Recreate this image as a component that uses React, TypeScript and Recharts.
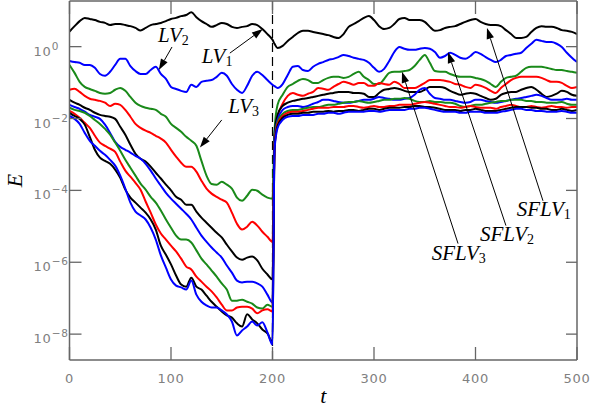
import React from "react";
import { LineChart, Line, XAxis, YAxis, ReferenceLine, ReferenceDot } from "recharts";

// time grid (t), shared by every series
const T = [
  0, 5, 10, 15, 20, 25, 30, 35, 40, 45, 50, 55, 60, 65, 70, 75, 80, 85, 90, 95,
  100, 105, 110, 115, 120, 125, 130, 135, 140, 145, 150, 155, 160, 165, 170, 175, 180, 185, 190, 195,
  200, 202, 205,
  210, 215, 220, 225, 230, 235, 240, 245, 250, 255, 260, 265, 270, 275, 280, 285, 290, 295, 300, 305,
  310, 315, 320, 325, 330, 335, 340, 345, 350, 355, 360, 365, 370, 375, 380, 385, 390, 395, 400, 405,
  410, 415, 420, 425, 430, 435, 440, 445, 450, 455, 460, 465, 470, 475, 480, 485, 490, 495, 500,
];

// log10(E), one array per curve
const LV_A = [
  0.42, 0.57, 0.71, 0.80, 0.77, 0.74, 0.69, 0.66, 0.60, 0.63,
  0.63, 0.60, 0.57, 0.52, 0.45, 0.52, 0.60, 0.63, 0.66, 0.71,
  0.77, 0.80, 0.85, 0.88, 0.96, 0.82, 0.71, 0.63, 0.55, 0.60,
  0.66, 0.63, 0.55, 0.52, 0.55, 0.57, 0.63, 0.60, 0.49, 0.35,
  0.19,
  0.08, -0.04,
  0.02, 0.16, 0.27, 0.38, 0.44, 0.44, 0.41, 0.38, 0.35, 0.32,
  0.27, 0.24, 0.35, 0.55, 0.63, 0.71, 0.80, 0.85, 0.74, 0.57,
  0.49, 0.52, 0.63, 0.77, 0.80, 0.74, 0.74, 0.74, 0.69, 0.55,
  0.44, 0.46, 0.52, 0.55, 0.57, 0.63, 0.69, 0.74, 0.77, 0.69,
  0.63, 0.60, 0.60, 0.57, 0.46, 0.35, 0.24, 0.24, 0.27, 0.41,
  0.52, 0.57, 0.55, 0.55, 0.52, 0.46, 0.44, 0.41, 0.35,
];
const LV_B = [
  -0.40, -0.43, -0.45, -0.51, -0.51, -0.59, -0.76, -0.81, -0.70, -0.51,
  -0.34, -0.34, -0.54, -0.68, -0.76, -0.76, -0.65, -0.56, -0.76, -0.90,
  -1.12, -1.18, -1.23, -1.26, -1.06, -1.12, -0.98, -0.95, -0.93, -0.84,
  -0.73, -0.81, -1.04, -1.20, -1.29, -1.09, -0.81, -0.70, -0.79, -0.93,
  -1.06,
  -1.10, -1.15,
  -1.04, -0.79, -0.56, -0.54, -0.65, -0.68, -0.56, -0.48, -0.43, -0.37,
  -0.34, -0.29, -0.23, -0.26, -0.31, -0.34, -0.37, -0.45, -0.59, -0.70,
  -0.62, -0.40, -0.15, -0.01, -0.06, -0.09, -0.09, -0.06, -0.04, -0.06,
  -0.15, -0.31, -0.26, -0.17, -0.23, -0.31, -0.34, -0.26, -0.15, -0.20,
  -0.29, -0.37, -0.43, -0.37, -0.26, -0.23, -0.20, -0.17, -0.04, 0.08,
  0.19, 0.16, 0.13, 0.13, 0.08, -0.01, -0.17, -0.31, -0.43,
];
const LV_C = [
  -0.51, -0.73, -0.98, -1.12, -1.18, -1.23, -1.29, -1.31, -1.29, -1.20,
  -1.15, -1.23, -1.40, -1.56, -1.65, -1.70, -1.73, -1.76, -1.87, -1.95,
  -2.15, -2.26, -2.37, -2.51, -2.62, -2.76, -3.18, -3.59, -3.82, -3.84,
  -3.76, -3.84, -3.95, -4.20, -4.29, -4.15, -3.98, -4.01, -4.12, -4.20,
  -4.23,
  -2.32, -1.62,
  -1.34, -1.12, -1.04, -0.95, -0.90, -0.93, -1.01, -1.01, -0.93, -0.87,
  -0.84, -0.84, -0.87, -0.84, -0.76, -0.70, -0.84, -0.93, -1.04, -1.04,
  -0.90, -0.73, -0.70, -0.70, -0.68, -0.65, -0.54, -0.37, -0.23, -0.45,
  -0.68, -0.70, -0.70, -0.76, -0.81, -0.84, -0.84, -0.84, -0.87, -0.90,
  -0.95, -1.04, -1.12, -0.98, -0.87, -0.84, -0.81, -0.70, -0.59, -0.56,
  -0.56, -0.56, -0.59, -0.62, -0.65, -0.65, -0.68, -0.70, -0.73,
];
const LV_D = [
  -1.20, -1.17, -1.26, -1.37, -1.45, -1.48, -1.51, -1.56, -1.65, -1.59,
  -1.62, -1.76, -1.95, -2.15, -2.26, -2.34, -2.40, -2.48, -2.56, -2.67,
  -2.87, -3.06, -3.23, -3.34, -3.34, -3.48, -3.73, -3.95, -4.09, -4.18,
  -4.26, -4.34, -4.62, -4.93, -5.09, -5.01, -4.87, -4.98, -5.15, -5.29,
  -5.43,
  -2.87, -1.98,
  -1.59, -1.37, -1.29, -1.34, -1.37, -1.31, -1.26, -1.15, -1.17, -1.20,
  -1.12, -1.04, -0.98, -1.01, -1.06, -1.01, -1.01, -1.09, -1.09, -1.01,
  -1.04, -1.06, -0.98, -1.04, -1.15, -1.15, -1.15, -1.09, -1.01, -0.93,
  -0.93, -0.93, -0.95, -0.98, -1.04, -1.06, -1.12, -1.15, -1.06, -1.09,
  -1.15, -1.23, -1.29, -1.15, -1.04, -0.93, -0.87, -0.84, -0.84, -0.84,
  -0.84, -0.87, -0.93, -0.98, -0.98, -1.01, -1.09, -1.15, -1.12,
];
const LV_E = [
  -1.48, -1.56, -1.62, -1.70, -1.76, -1.84, -1.90, -1.93, -1.95, -2.01,
  -2.23, -2.45, -2.73, -2.98, -3.12, -3.20, -3.34, -3.51, -3.67, -3.84,
  -4.00, -4.18, -4.26, -4.40, -4.40, -4.59, -4.76, -4.90, -5.04, -5.18,
  -5.31, -5.51, -5.70, -5.87, -5.93, -5.87, -5.84, -5.95, -6.18, -6.34,
  -6.48,
  -2.45, -1.90,
  -1.65, -1.56, -1.51, -1.48, -1.45, -1.43, -1.40, -1.37, -1.34, -1.31,
  -1.29, -1.26, -1.26, -1.26, -1.29, -1.29, -1.31, -1.40, -1.40, -1.29,
  -1.20, -1.18, -1.15, -1.18, -1.23, -1.26, -1.26, -1.26, -1.20, -1.12,
  -1.12, -1.12, -1.15, -1.23, -1.29, -1.34, -1.31, -1.29, -1.31, -1.37,
  -1.43, -1.48, -1.45, -1.34, -1.29, -1.26, -1.26, -1.20, -1.15, -1.12,
  -1.20, -1.31, -1.40, -1.37, -1.31, -1.23, -1.26, -1.34, -1.37,
];
const LV_F = [
  -1.62, -1.68, -1.73, -1.81, -1.90, -1.95, -2.01, -2.17, -2.40, -2.65,
  -2.79, -2.87, -2.95, -3.04, -3.12, -3.26, -3.45, -3.67, -3.87, -4.07,
  -4.23, -4.37, -4.51, -4.65, -4.81, -5.04, -5.26, -5.43, -5.59, -5.73,
  -5.87, -6.09, -6.29, -6.51, -6.56, -6.54, -6.54, -6.59, -6.68, -6.90,
  -7.12,
  -2.59, -2.04,
  -1.76, -1.68, -1.65, -1.65, -1.68, -1.65, -1.59, -1.54, -1.48, -1.48,
  -1.51, -1.54, -1.56, -1.56, -1.54, -1.51, -1.48, -1.48, -1.45, -1.40,
  -1.43, -1.45, -1.48, -1.48, -1.45, -1.43, -1.34, -1.20, -1.15, -1.31,
  -1.43, -1.45, -1.48, -1.48, -1.51, -1.54, -1.56, -1.54, -1.48, -1.48,
  -1.51, -1.54, -1.56, -1.54, -1.51, -1.48, -1.45, -1.43, -1.40, -1.37,
  -1.34, -1.37, -1.43, -1.48, -1.48, -1.48, -1.45, -1.48, -1.48,
];
const LV_G = [
  -1.70, -1.76, -1.79, -1.84, -1.93, -2.04, -2.15, -2.29, -2.45, -2.67,
  -2.90, -3.15, -3.37, -3.59, -3.81, -3.98, -4.18, -4.34, -4.56, -4.81,
  -5.04, -5.26, -5.37, -5.37, -5.45, -5.67, -5.90, -6.06, -6.23, -6.40,
  -6.59, -6.76, -7.07, -7.07, -7.04, -7.10, -7.15, -7.26, -7.29, -7.18,
  -7.24,
  -2.65, -2.09,
  -1.87, -1.79, -1.76, -1.76, -1.73, -1.70, -1.68, -1.68, -1.65, -1.62,
  -1.62, -1.59, -1.56, -1.54, -1.54, -1.51, -1.54, -1.56, -1.54, -1.51,
  -1.48, -1.48, -1.45, -1.45, -1.43, -1.45, -1.51, -1.54, -1.54, -1.51,
  -1.54, -1.54, -1.56, -1.56, -1.59, -1.65, -1.68, -1.65, -1.62, -1.62,
  -1.59, -1.56, -1.54, -1.51, -1.51, -1.48, -1.48, -1.48, -1.51, -1.51,
  -1.54, -1.54, -1.56, -1.56, -1.56, -1.54, -1.59, -1.62, -1.62,
];
const LV_H = [
  -1.79, -1.87, -1.98, -2.12, -2.26, -2.48, -2.67, -2.76, -2.84, -2.93,
  -3.20, -3.45, -3.62, -3.79, -3.98, -4.31, -4.62, -4.95, -5.20, -5.37,
  -5.54, -5.70, -5.90, -6.12, -6.20, -6.40, -6.54, -6.68, -6.81, -6.98,
  -7.18, -7.34, -7.34, -7.26, -7.24, -7.24, -7.29, -7.42, -7.34, -7.31,
  -7.37,
  -2.73, -2.15,
  -1.93, -1.84, -1.81, -1.81, -1.79, -1.76, -1.73, -1.70, -1.70, -1.70,
  -1.68, -1.68, -1.68, -1.65, -1.65, -1.68, -1.70, -1.68, -1.65, -1.68,
  -1.68, -1.65, -1.65, -1.62, -1.62, -1.62, -1.59, -1.56, -1.54, -1.56,
  -1.59, -1.62, -1.65, -1.68, -1.68, -1.70, -1.68, -1.65, -1.68, -1.70,
  -1.70, -1.70, -1.73, -1.68, -1.65, -1.62, -1.65, -1.68, -1.68, -1.65,
  -1.68, -1.70, -1.68, -1.65, -1.68, -1.68, -1.70, -1.68, -1.68,
];
const LV_I = [
  -1.84, -1.93, -2.01, -2.17, -2.51, -2.87, -3.09, -3.18, -3.26, -3.42,
  -3.65, -3.98, -4.20, -4.34, -4.48, -4.62, -4.81, -5.09, -5.54, -5.79,
  -6.06, -6.37, -6.62, -6.68, -6.43, -6.68, -6.76, -6.93, -7.10, -7.24,
  -7.37, -7.48, -7.54, -7.70, -7.79, -7.45, -7.59, -7.70, -7.87, -7.98,
  -8.23,
  -2.81, -2.20,
  -1.98, -1.90, -1.87, -1.87, -1.84, -1.84, -1.81, -1.81, -1.81, -1.79,
  -1.81, -1.79, -1.79, -1.76, -1.76, -1.79, -1.76, -1.73, -1.73, -1.76,
  -1.73, -1.70, -1.70, -1.70, -1.68, -1.68, -1.65, -1.65, -1.68, -1.68,
  -1.70, -1.73, -1.76, -1.76, -1.76, -1.79, -1.76, -1.76, -1.73, -1.76,
  -1.79, -1.79, -1.79, -1.76, -1.73, -1.70, -1.68, -1.68, -1.68, -1.70,
  -1.70, -1.73, -1.73, -1.76, -1.76, -1.73, -1.76, -1.79, -1.76,
];
const LV_J = [
  -1.93, -2.01, -2.15, -2.40, -2.62, -2.76, -2.90, -3.01, -3.15, -3.31,
  -3.59, -3.95, -4.34, -4.59, -4.70, -4.81, -5.04, -5.37, -5.81, -6.15,
  -6.48, -6.65, -6.70, -6.76, -6.51, -6.90, -7.10, -7.20, -7.26, -7.26,
  -7.34, -7.45, -7.65, -8.04, -7.90, -7.79, -7.65, -7.76, -7.67, -7.95,
  -8.29,
  -2.87, -2.26,
  -2.04, -1.95, -1.93, -1.93, -1.90, -1.90, -1.90, -1.87, -1.87, -1.84,
  -1.84, -1.87, -1.84, -1.81, -1.81, -1.81, -1.81, -1.79, -1.79, -1.81,
  -1.79, -1.76, -1.76, -1.76, -1.76, -1.73, -1.73, -1.70, -1.70, -1.73,
  -1.76, -1.79, -1.81, -1.81, -1.81, -1.84, -1.84, -1.81, -1.81, -1.81,
  -1.84, -1.84, -1.84, -1.81, -1.79, -1.76, -1.73, -1.73, -1.76, -1.76,
  -1.79, -1.79, -1.81, -1.81, -1.81, -1.79, -1.81, -1.84, -1.84,
];

const SERIES = [
  { key: "A", values: LV_A, color: "#000000" },
  { key: "B", values: LV_B, color: "#0000ff" },
  { key: "C", values: LV_C, color: "#1a8a1a" },
  { key: "D", values: LV_D, color: "#ff0000" },
  { key: "E", values: LV_E, color: "#000000" },
  { key: "F", values: LV_F, color: "#0000ff" },
  { key: "G", values: LV_G, color: "#1a8a1a" },
  { key: "H", values: LV_H, color: "#ff0000" },
  { key: "I", values: LV_I, color: "#000000" },
  { key: "J", values: LV_J, color: "#0000ff" },
];

const X_TICKS = [0, 100, 200, 300, 400, 500];
const Y_EXPONENTS = [-8, -6, -4, -2, 0];
const LOG_MIN = -8.72;
const LOG_MAX = 1.27;

// annotation text: [t, log10 E, name, subscript]
const LABELS: [number, number, string, string][] = [
  [87.2, 0.14, "LV", "2"],
  [130.2, -0.46, "LV", "1"],
  [156.5, -1.85, "LV", "3"],
  [440.6, -4.72, "SFLV", "1"],
  [404.4, -5.42, "SFLV", "2"],
  [356.9, -5.93, "SFLV", "3"],
];
// arrows: [t from, log from, t tip, log tip]
const ARROWS: [number, number, number, number][] = [
  [101, -0.01, 88, -0.65],
  [158, -0.18, 190.5, 0.49],
  [150, -2.04, 128.5, -2.81],
  [466.5, -4.29, 411.3, 0.52],
  [430, -4.98, 372.9, -0.15],
  [382.8, -5.48, 327.6, -0.7],
];

const AXIS_COLOR = "#666666";
const TICK_COLOR = "#808080";
const TICK_FONT = "DejaVu Sans, sans-serif";
const MATH_FONT = "Liberation Serif, Times New Roman, serif";

const rows = T.map((t, i) => {
  const r: any = { t };
  SERIES.forEach((s) => (r[s.key] = Math.pow(10, s.values[i])));
  return r;
});

function expLabel(v: number) {
  const e = Math.round(Math.log10(v));
  return e < 0 ? "\u2212" + -e : String(e);
}

function BottomTick({ x, y, payload }: any) {
  return (
    <g>
      <line x1={x} x2={x} y1={y} y2={y - 13} stroke={AXIS_COLOR} strokeWidth={1.3} />
      <text x={x} y={y + 23} textAnchor="middle" fill={TICK_COLOR} fontSize={13} fontFamily={TICK_FONT} letterSpacing={0.8}>
        {payload.value}
      </text>
    </g>
  );
}

function TopTick({ x, y }: any) {
  return <line x1={x} x2={x} y1={y} y2={y + 13} stroke={AXIS_COLOR} strokeWidth={1.3} />;
}

function LeftTick({ x, y, payload }: any) {
  return (
    <g>
      <line x1={x} x2={x + 12} y1={y} y2={y} stroke={AXIS_COLOR} strokeWidth={1.3} />
      <text x={x - 36} y={y + 9} fill={TICK_COLOR} fontSize={13} fontFamily={TICK_FONT} letterSpacing={0.8}>
        10
        <tspan dy={-6} fontSize={10.5}>
          {expLabel(payload.value)}
        </tspan>
      </text>
    </g>
  );
}

function RightTick({ x, y }: any) {
  return <line x1={x} x2={x - 11} y1={y} y2={y} stroke={AXIS_COLOR} strokeWidth={1.3} />;
}

function ArrowShape(p: any) {
  const { x1, y1, x2, y2 } = p;
  const a = Math.atan2(y2 - y1, x2 - x1);
  const len = 11;
  const half = 3.8;
  const bx = x2 - len * Math.cos(a);
  const by = y2 - len * Math.sin(a);
  const nx = -Math.sin(a) * half;
  const ny = Math.cos(a) * half;
  return (
    <g>
      <line x1={x1} y1={y1} x2={bx} y2={by} stroke="#000" strokeWidth={1} />
      <polygon points={`${x2},${y2} ${bx + nx},${by + ny} ${bx - nx},${by - ny}`} fill="#000" />
    </g>
  );
}

function labelShape(name: string, sub: string) {
  return (p: any) => (
    <text x={p.cx} y={p.cy} fontFamily={MATH_FONT} fontStyle="italic" fontSize={21} fill="#000">
      {name}
      <tspan dy={3} fontSize={14} fontStyle="normal">
        {sub}
      </tspan>
    </text>
  );
}

export default function App() {
  const domain = [Math.pow(10, LOG_MIN), Math.pow(10, LOG_MAX)];
  const yTicks = Y_EXPONENTS.map((e) => Math.pow(10, e));
  const axisLine = { stroke: AXIS_COLOR, strokeWidth: 1.5 };
  return (
    <div style={{ width: 592, height: 411, background: "#fff" }}>
      <style>{"body{margin:0;background:#fff}"}</style>
      <LineChart width={592} height={411} data={rows} margin={{ top: 0, right: 14, bottom: 0, left: 0 }}>
        <XAxis
          dataKey="t"
          type="number"
          domain={[0, 500]}
          allowDataOverflow
          ticks={X_TICKS}
          interval={0}
          height={51}
          tickSize={0}
          tickMargin={0}
          tickLine={false}
          axisLine={axisLine}
          tick={BottomTick}
          label={{
            content: ({ viewBox }: any) => (
              <text
                x={viewBox.x + viewBox.width / 2}
                y={viewBox.y + 43}
                textAnchor="middle"
                fontFamily={MATH_FONT}
                fontStyle="italic"
                fontSize={22}
                fill="#000"
              >
                t
              </text>
            ),
          }}
        />
        <XAxis
          xAxisId="top"
          orientation="top"
          dataKey="t"
          type="number"
          domain={[0, 500]}
          allowDataOverflow
          ticks={X_TICKS}
          interval={0}
          height={1}
          tickSize={0}
          tickMargin={0}
          tickLine={false}
          axisLine={axisLine}
          tick={TopTick}
        />
        <YAxis
          scale="log"
          type="number"
          domain={domain}
          allowDataOverflow
          ticks={yTicks}
          interval={0}
          width={69.5}
          tickSize={0}
          tickMargin={0}
          tickLine={false}
          axisLine={axisLine}
          tick={LeftTick}
          label={{
            content: ({ viewBox }: any) => {
              const cx = viewBox.x + 22;
              const cy = viewBox.y + viewBox.height / 2;
              return (
                <text
                  x={cx}
                  y={cy}
                  transform={`rotate(-90, ${cx}, ${cy})`}
                  textAnchor="middle"
                  fontFamily={MATH_FONT}
                  fontStyle="italic"
                  fontSize={22}
                  fill="#000"
                >
                  E
                </text>
              );
            },
          }}
        />
        <YAxis
          yAxisId="right"
          orientation="right"
          scale="log"
          type="number"
          domain={domain}
          allowDataOverflow
          ticks={yTicks}
          interval={0}
          width={1}
          tickSize={0}
          tickMargin={0}
          tickLine={false}
          axisLine={axisLine}
          tick={RightTick}
        />
        <ReferenceLine x={200} stroke="#000" strokeWidth={1.2} strokeDasharray="9 5" />
        {SERIES.map((s) => (
          <Line
            key={s.key}
            dataKey={s.key}
            type="monotone"
            stroke={s.color}
            strokeWidth={2}
            dot={false}
            activeDot={false}
            isAnimationActive={false}
          />
        ))}
        {/* invisible copy so the frame axes (top / right) have a series bound to them */}
        <Line
          xAxisId="top"
          yAxisId="right"
          dataKey="A"
          stroke="none"
          strokeWidth={0}
          dot={false}
          activeDot={false}
          legendType="none"
          isAnimationActive={false}
        />
        {ARROWS.map((a, i) => (
          <ReferenceLine
            key={"arrow" + i}
            segment={[
              { x: a[0], y: Math.pow(10, a[1]) },
              { x: a[2], y: Math.pow(10, a[3]) },
            ]}
            ifOverflow="visible"
            shape={ArrowShape}
          />
        ))}
        {LABELS.map((l, i) => (
          <ReferenceDot
            key={"label" + i}
            x={l[0]}
            y={Math.pow(10, l[1])}
            r={0}
            ifOverflow="visible"
            shape={labelShape(l[2], l[3])}
          />
        ))}
      </LineChart>
    </div>
  );
}
